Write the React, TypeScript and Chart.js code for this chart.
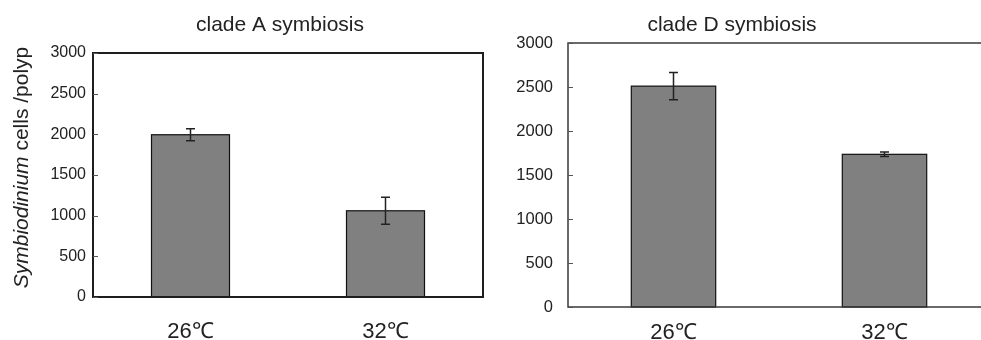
import React, { useEffect, useRef } from "react";
import Chart from "chart.js/auto";

const categories = ["26℃", "32℃"];
const cladeAMeans = [1995, 1060];
const cladeAErrors = [75, 165];
const cladeDMeans = [2510, 1735];
const cladeDErrors = [155, 25];
const yTicks = [0, 500, 1000, 1500, 2000, 2500, 3000];

const FONT = "'Liberation Sans', Arial, sans-serif";
const TEXT = "#222";

type PanelCfg = {
  title: string;
  titleX: number;
  fullBox: boolean;
  lineWidth: number;
  lineColor: string;
  yTitle: boolean;
  errors: number[];
  means: number[];
};

function makePlugin(cfg: PanelCfg) {
  return {
    id: "panelDecor",
    afterDraw(chart: any) {
      const ctx = chart.ctx;
      const a = chart.chartArea;
      const ys = chart.scales.y;
      ctx.save();
      // bar outlines
      const meta = chart.getDatasetMeta(0);
      ctx.strokeStyle = "#111";
      ctx.lineWidth = 1.2;
      meta.data.forEach((bar: any) => {
        const half = bar.width / 2;
        ctx.strokeRect(bar.x - half, bar.y, bar.width, bar.base - bar.y);
      });
      // error bars
      ctx.strokeStyle = "#222";
      ctx.lineWidth = 1.5;
      meta.data.forEach((bar: any, i: number) => {
        const x = bar.x;
        const yTop = ys.getPixelForValue(cfg.means[i] + cfg.errors[i]);
        const yBot = ys.getPixelForValue(cfg.means[i] - cfg.errors[i]);
        ctx.beginPath();
        ctx.moveTo(x, yTop);
        ctx.lineTo(x, yBot);
        ctx.moveTo(x - 4.5, yTop);
        ctx.lineTo(x + 4.5, yTop);
        ctx.moveTo(x - 4.5, yBot);
        ctx.lineTo(x + 4.5, yBot);
        ctx.stroke();
      });
      // frame
      ctx.strokeStyle = cfg.lineColor;
      ctx.lineWidth = cfg.lineWidth;
      if (cfg.fullBox) {
        ctx.strokeRect(a.left, a.top, a.right - a.left, a.bottom - a.top);
      } else {
        ctx.beginPath();
        ctx.moveTo(chart.width, a.top);
        ctx.lineTo(a.left, a.top);
        ctx.lineTo(a.left, a.bottom);
        ctx.lineTo(chart.width, a.bottom);
        ctx.stroke();
      }
      // inward ticks
      ctx.lineWidth = 1;
      ctx.strokeStyle = "#555";
      ctx.beginPath();
      yTicks.forEach((v) => {
        const y = Math.round(ys.getPixelForValue(v)) + 0.5;
        ctx.moveTo(a.left, y);
        ctx.lineTo(a.left + 5, y);
      });
      ctx.stroke();
      // title
      ctx.fillStyle = TEXT;
      ctx.font = `21px ${FONT}`;
      ctx.textAlign = "center";
      ctx.textBaseline = "alphabetic";
      ctx.fillText(cfg.title, cfg.titleX, 31);
      // y axis title
      if (cfg.yTitle) {
        ctx.translate(28, 167.5);
        ctx.rotate(-Math.PI / 2);
        const italic = `italic 21px ${FONT}`;
        const normal = `21px ${FONT}`;
        const p1 = "Symbiodinium";
        const p2 = " cells /polyp";
        ctx.font = italic;
        const w1 = ctx.measureText(p1).width;
        ctx.font = normal;
        const w2 = ctx.measureText(p2).width;
        const start = -(w1 + w2) / 2;
        ctx.textAlign = "left";
        ctx.font = italic;
        ctx.fillText(p1, start, 0);
        ctx.font = normal;
        ctx.fillText(p2, start + w1, 0);
      }
      ctx.restore();
    },
  };
}

function Panel(props: {
  cfg: PanelCfg;
  width: number;
  left: number;
  padTop: number;
  padRight: number;
  yWidth: number;
  xHeight: number;
  yTickPad: number;
  xTickPad: number;
  yFont: number;
}) {
  const ref = useRef<HTMLCanvasElement | null>(null);
  useEffect(() => {
    if (!ref.current) return;
    const { cfg } = props;
    const chart = new Chart(ref.current, {
      type: "bar",
      data: {
        labels: categories,
        datasets: [
          {
            data: cfg.means,
            backgroundColor: "#808080",
            borderWidth: 0,
            barPercentage: 0.4,
            categoryPercentage: 1.0,
          },
        ],
      },
      options: {
        responsive: false,
        animation: false,
        devicePixelRatio: 1,
        layout: {
          padding: { top: props.padTop, right: props.padRight, left: 0, bottom: 0 },
        },
        plugins: {
          legend: { display: false },
          tooltip: { enabled: false },
          title: { display: false },
        },
        scales: {
          x: {
            grid: { display: false, drawTicks: false },
            border: { display: false },
            ticks: {
              color: TEXT,
              font: { family: FONT, size: 22 },
              padding: props.xTickPad,
            },
            afterFit: (s: any) => {
              s.height = props.xHeight;
            },
          },
          y: {
            min: 0,
            max: 3000,
            grid: { display: false, drawTicks: false },
            border: { display: false },
            afterBuildTicks: (s: any) => {
              s.ticks = yTicks.map((v) => ({ value: v }));
            },
            ticks: {
              color: TEXT,
              font: { family: FONT, size: props.yFont },
              padding: props.yTickPad,
              callback: (v: any) => String(v),
            },
            afterFit: (s: any) => {
              s.width = props.yWidth;
            },
          },
        },
      },
      plugins: [makePlugin(cfg)],
    } as any);
    return () => chart.destroy();
  }, []);
  return (
    <canvas
      ref={ref}
      width={props.width}
      height={340}
      style={{
        position: "absolute",
        left: props.left,
        top: 0,
        width: props.width,
        height: 340,
        display: "block",
      }}
    />
  );
}

export default function App() {
  const cfgA: PanelCfg = {
    title: "clade A symbiosis",
    titleX: 280,
    fullBox: true,
    lineWidth: 2,
    lineColor: "#1e1e1e",
    yTitle: true,
    errors: cladeAErrors,
    means: cladeAMeans,
  };
  const cfgD: PanelCfg = {
    title: "clade D symbiosis",
    titleX: 242,
    fullBox: false,
    lineWidth: 1.5,
    lineColor: "#3a3a3a",
    yTitle: false,
    errors: cladeDErrors,
    means: cladeDMeans,
  };
  return (
    <div
      style={{
        position: "fixed",
        left: 0,
        top: 0,
        width: 981,
        height: 340,
        overflow: "hidden",
        background: "#fff",
      }}
    >
      <Panel cfg={cfgA} width={490} left={0} padTop={53} padRight={7} yWidth={93} xHeight={43} yTickPad={7} xTickPad={22} yFont={16} />
      <Panel cfg={cfgD} width={500} left={490} padTop={43} padRight={0} yWidth={78} xHeight={33} yTickPad={15} xTickPad={13} yFont={16.5} />
    </div>
  );
}
